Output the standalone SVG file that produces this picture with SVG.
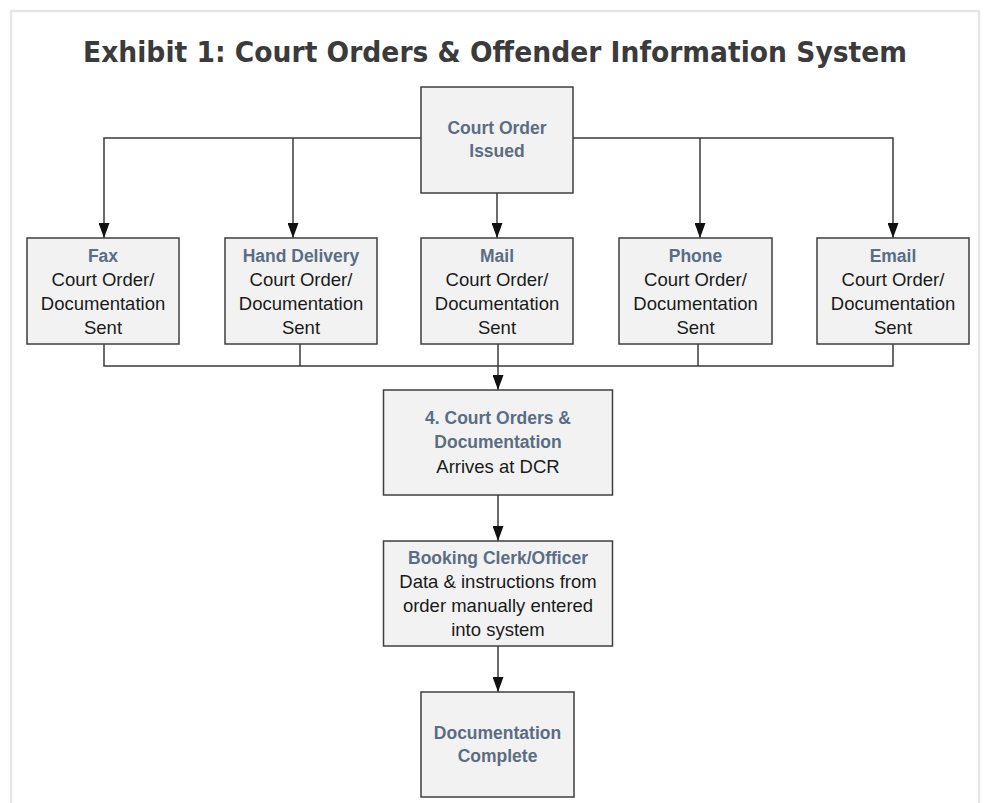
<svg xmlns="http://www.w3.org/2000/svg" width="984" height="803" viewBox="0 0 984 803">
<style>
.box{fill:#f2f2f2;stroke:#3f3f3f;stroke-width:1.5}
.hd{font-family:"Liberation Sans",Arial,sans-serif;font-weight:bold;font-size:17.5px;fill:#5b6d83;text-anchor:middle}
.tx{font-family:"Liberation Sans",Arial,sans-serif;font-size:18.5px;fill:#1a1a1a;text-anchor:middle}
.ln{fill:none;stroke:#3a3a3a;stroke-width:1.5}
.title{font-family:"DejaVu Sans Condensed","DejaVu Sans",Verdana,sans-serif;font-weight:bold;font-size:29px;fill:#3b3b3b;text-anchor:middle}
</style>
<defs>
<marker id="arrd" markerUnits="userSpaceOnUse" markerWidth="15" markerHeight="11" refX="15" refY="5.5" orient="auto" viewBox="0 0 15 11">
<path d="M0,0 L15,5.5 L0,11 Z" fill="#111"/>
</marker>
</defs>
<rect x="0" y="0" width="984" height="803" fill="#fff"/>
<path d="M11,803 V11 H979 V803" fill="none" stroke="#e6e6e6" stroke-width="2.5"/>
<text class="title" x="495" y="62" textLength="824" lengthAdjust="spacingAndGlyphs">Exhibit 1: Court Orders &amp; Offender Information System</text>

<g id="connectors">
<path class="ln" d="M421,138 H104 V238" marker-end="url(#arrd)"/>
<path class="ln" d="M293,138 V238" marker-end="url(#arrd)"/>
<path class="ln" d="M497,193 V238" marker-end="url(#arrd)"/>
<path class="ln" d="M573,138 H893 V238" marker-end="url(#arrd)"/>
<path class="ln" d="M700,138 V238" marker-end="url(#arrd)"/>
<path class="ln" d="M104,344 V366 H893 V344"/>
<path class="ln" d="M300,344 V366"/>
<path class="ln" d="M698,344 V366"/>
<path class="ln" d="M498,344 V390" marker-end="url(#arrd)"/>
<path class="ln" d="M498,495 V541" marker-end="url(#arrd)"/>
<path class="ln" d="M498,646 V692" marker-end="url(#arrd)"/>
</g>

<g id="court-order-issued">
<rect class="box" x="421" y="87" width="152" height="106"/>
<text class="hd" x="497" y="134">Court Order</text>
<text class="hd" x="497" y="157">Issued</text>
</g>

<g id="fax">
<rect class="box" x="27" y="238" width="152" height="106"/>
<text class="hd" x="103" y="262">Fax</text>
<text class="tx" x="103" y="286">Court Order/</text>
<text class="tx" x="103" y="310">Documentation</text>
<text class="tx" x="103" y="334">Sent</text>
</g>

<g id="hand-delivery">
<rect class="box" x="225" y="238" width="152" height="106"/>
<text class="hd" x="301" y="262">Hand Delivery</text>
<text class="tx" x="301" y="286">Court Order/</text>
<text class="tx" x="301" y="310">Documentation</text>
<text class="tx" x="301" y="334">Sent</text>
</g>

<g id="mail">
<rect class="box" x="421" y="238" width="152" height="106"/>
<text class="hd" x="497" y="262">Mail</text>
<text class="tx" x="497" y="286">Court Order/</text>
<text class="tx" x="497" y="310">Documentation</text>
<text class="tx" x="497" y="334">Sent</text>
</g>

<g id="phone">
<rect class="box" x="619" y="238" width="153" height="106"/>
<text class="hd" x="695.5" y="262">Phone</text>
<text class="tx" x="695.5" y="286">Court Order/</text>
<text class="tx" x="695.5" y="310">Documentation</text>
<text class="tx" x="695.5" y="334">Sent</text>
</g>

<g id="email">
<rect class="box" x="817" y="238" width="152" height="106"/>
<text class="hd" x="893" y="262">Email</text>
<text class="tx" x="893" y="286">Court Order/</text>
<text class="tx" x="893" y="310">Documentation</text>
<text class="tx" x="893" y="334">Sent</text>
</g>

<g id="arrives-at-dcr">
<rect class="box" x="383.5" y="390" width="229" height="105"/>
<text class="hd" x="498" y="424">4. Court Orders &amp;</text>
<text class="hd" x="498" y="448">Documentation</text>
<text class="tx" x="498" y="473">Arrives at DCR</text>
</g>

<g id="booking-clerk">
<rect class="box" x="383.5" y="541" width="229" height="105"/>
<text class="hd" x="498" y="564">Booking Clerk/Officer</text>
<text class="tx" x="498" y="588">Data &amp; instructions from</text>
<text class="tx" x="498" y="612">order manually entered</text>
<text class="tx" x="498" y="636">into system</text>
</g>

<g id="documentation-complete">
<rect class="box" x="421" y="692" width="153" height="105"/>
<text class="hd" x="497.5" y="739">Documentation</text>
<text class="hd" x="497.5" y="762">Complete</text>
</g>
</svg>
